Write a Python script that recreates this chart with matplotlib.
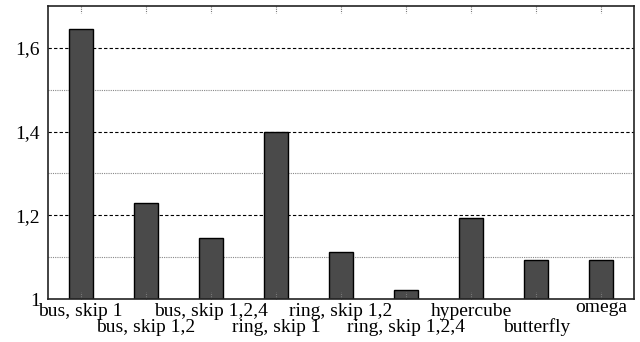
import matplotlib
matplotlib.use("Agg")
import matplotlib.pyplot as plt
import matplotlib.transforms as mtransforms
from matplotlib.ticker import FixedLocator, FuncFormatter

plt.rcParams['font.family'] = ['Liberation Serif', 'DejaVu Serif']

networks = ["bus, skip 1", "bus, skip 1,2", "bus, skip 1,2,4",
            "ring, skip 1", "ring, skip 1,2", "ring, skip 1,2,4",
            "hypercube", "butterfly", "omega"]
slowdown = [1.645, 1.229, 1.145, 1.398, 1.112, 1.021, 1.193, 1.093, 1.093]
ytick_major = [1.0, 1.2, 1.4, 1.6]
ytick_minor = [1.1, 1.3, 1.5]

fig = plt.figure(figsize=(6.4, 3.42), dpi=100)
ax = fig.add_axes([48 / 640, 43 / 342, 586 / 640, 293 / 342])

x = list(range(len(networks)))
ax.bar(x, slowdown, width=0.37, bottom=0, color="#4a4a4a",
       edgecolor="black", linewidth=1.0, zorder=3)

ax.set_xlim(-0.5, len(networks) - 0.5)
ax.set_ylim(1.0, 1.7)

# horizontal grid: dashed on major ticks, dotted on minor ones
for v in ytick_major[1:]:
    ax.axhline(v, color="black", linestyle=(0, (3, 2)), linewidth=0.8, zorder=1)
for v in ytick_minor:
    ax.axhline(v, color="#888888", linestyle=(0, (1, 1)), linewidth=0.8, zorder=1)

ax.yaxis.set_major_locator(FixedLocator(ytick_major))
ax.yaxis.set_major_formatter(FuncFormatter(
    lambda v, p: "1" if v == 1 else f"{v:.1f}".replace(".", ",")))
ax.tick_params(axis="y", length=0, labelsize=14, pad=6)

# category labels staggered on two rows (baselines in axes coords)
ax.set_xticks([])
trans = mtransforms.blended_transform_factory(ax.transData, ax.transAxes)
for i, name in enumerate(networks):
    if name == "omega":
        yoff = -0.044
    elif i % 2 == 0:
        yoff = -0.058
    else:
        yoff = -0.113
    ax.text(i, yoff, name, transform=trans, ha="center", va="baseline",
            fontsize=14)

# short dotted tick marks at top and bottom of each category
for i in x:
    ax.plot([i, i], [1.0, 0.975], transform=trans, color="#777777",
            linestyle=(0, (1, 1)), linewidth=0.8, zorder=4, clip_on=False)
    ax.plot([i, i], [0.0, 0.025], transform=trans, color="#777777",
            linestyle=(0, (1, 1)), linewidth=0.8, zorder=4, clip_on=False)

for s in ax.spines.values():
    s.set_linewidth(1.2)
    s.set_color("#222222")
    s.set_zorder(5)

fig.savefig("out.png", dpi=100)
